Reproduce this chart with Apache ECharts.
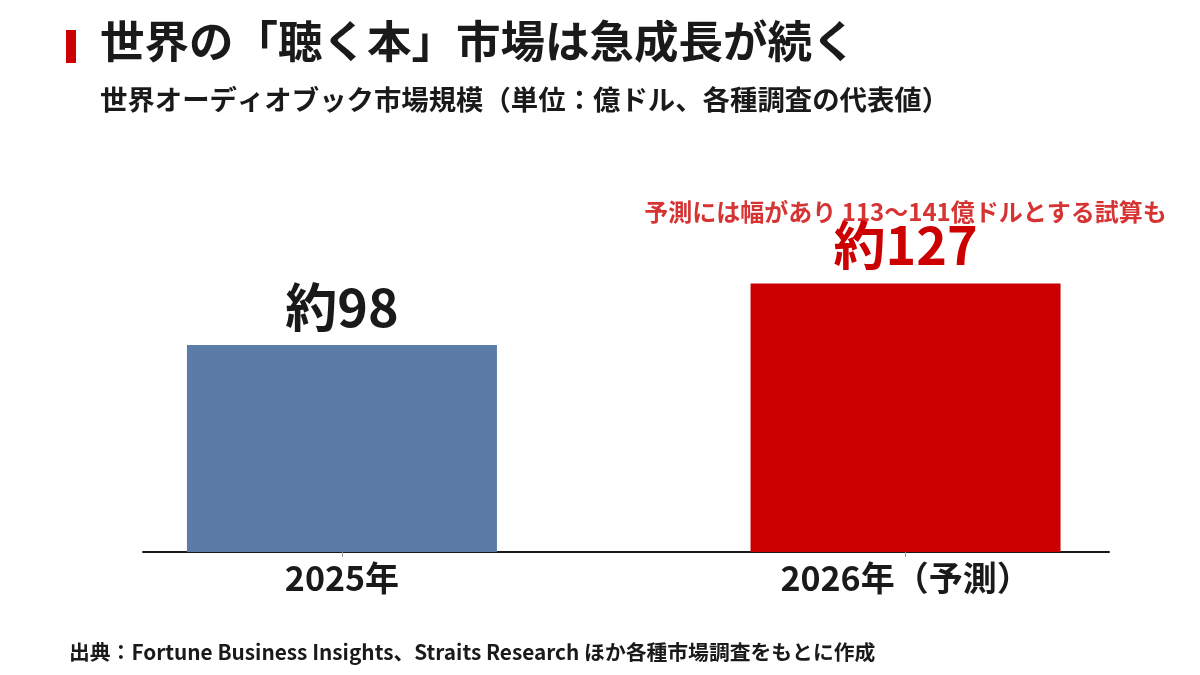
<!DOCTYPE html>
<html lang="ja">
<head>
<meta charset="utf-8">
<script src="https://cdn.jsdelivr.net/npm/echarts@6/dist/echarts.min.js"></script>
<style>
  html, body { margin: 0; padding: 0; background: #fff; }
  #chart { width: 1200px; height: 675px; }
</style>
</head>
<body>
<div id="chart"></div>
<script>
const years = ["2025年", "2026年（予測）"];
const marketSize = [98, 127];
const valueLabels = ["約98", "約127"];
const barColors = ["#5b7ca6", "#cc0000"];
const labelColors = ["#1a1a1a", "#cc0000"];
const rangeNote = "予測には幅があり 113〜141億ドルとする試算も";

const font = '"Noto Sans CJK JP", "Noto Sans", sans-serif';

const chart = echarts.init(document.getElementById("chart"));

chart.setOption({
  animation: false,
  backgroundColor: "#ffffff",
  textStyle: { fontFamily: font },
  title: [
    {
      text: "世界の「聴く本」市場は急成長が続く",
      left: 95, top: 14,
      textStyle: { fontFamily: font, fontSize: 44.5, fontWeight: "bold", color: "#1a1a1a" },
    },
    {
      text: "世界オーディオブック市場規模（単位：億ドル、各種調査の代表値）",
      left: 95, top: 81,
      textStyle: { fontFamily: font, fontSize: 27.4, fontWeight: "bold", color: "#1a1a1a" },
    },
    {
      text: "出典：Fortune Business Insights、Straits Research ほか各種市場調査をもとに作成",
      left: 64, top: 637,
      textStyle: { fontFamily: font, fontSize: 20.8, fontWeight: "bold", color: "#1a1a1a" },
    },
  ],
  graphic: [
    { type: "rect", shape: { x: 66, y: 30, width: 10, height: 33 }, style: { fill: "#cc0000" } },
  ],
  grid: { left: 143, right: 91, top: 235, bottom: 123 },
  xAxis: {
    type: "value",
    min: -0.353,
    max: 1.361,
    splitLine: { show: false },
    axisLine: { show: true, onZero: false, lineStyle: { color: "#1a1a1a", width: 2 } },
    axisTick: { show: true, customValues: [0, 1], length: 5, lineStyle: { color: "#999" } },
    axisLabel: {
      customValues: [0, 1],
      formatter: (v) => years[Math.round(v)],
      fontFamily: font,
      fontSize: 34,
      fontWeight: "bold",
      color: "#1a1a1a",
      margin: 9,
    },
  },
  yAxis: {
    type: "value",
    min: 0,
    max: 150,
    show: false,
  },
  series: [
    {
      type: "bar",
      barWidth: 310,
      data: marketSize.map((v, i) => ({
        value: [i, v],
        itemStyle: { color: barColors[i] },
        label: {
          show: true,
          position: "top",
          distance: 12,
          formatter: valueLabels[i],
          fontFamily: font,
          fontSize: 52,
          fontWeight: "bold",
          color: labelColors[i],
        },
      })),
    },
    {
      type: "scatter",
      symbolSize: 0,
      silent: true,
      data: [[1, marketSize[1]]],
      label: {
        show: true,
        position: "top",
        distance: 60,
        formatter: rangeNote,
        fontFamily: font,
        fontSize: 24,
        fontWeight: "bold",
        color: "#cc0000",
      },
    },
  ],
});
</script>
</body>
</html>
